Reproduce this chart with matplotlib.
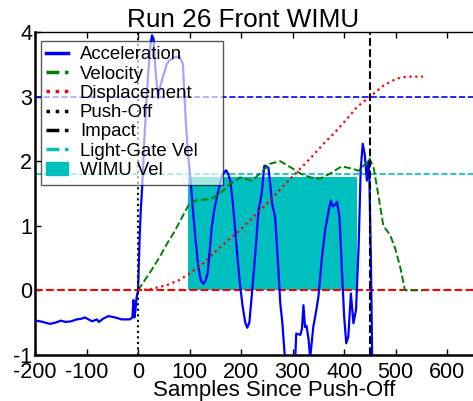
import matplotlib
matplotlib.use('Agg')
import matplotlib.pyplot as plt
import matplotlib.patches as mpatches
from matplotlib.lines import Line2D

plt.rcParams['font.family'] = ['Liberation Sans', 'DejaVu Sans']
plt.rcParams['axes.unicode_minus'] = False

# acceleration trace (samples since push-off, g)
acc_x = [-200, -190, -180, -171, -160, -150, -140, -130, -119, -110, -103, -89,
         -80, -76, -68, -58, -50, -40, -32, -16, -11, -9, -7, -5, -3, 0,
         3, 5, 8, 12, 16, 20, 24, 27, 30, 34, 39, 42, 49, 56, 62, 69, 75, 81,
         87, 92, 97, 102, 107, 112, 117, 122, 127, 131, 135, 139, 143, 148,
         153, 158, 162, 166, 171, 175, 179, 184, 188, 193, 198, 203, 208, 212,
         216, 221, 227, 234, 240, 245, 249, 253, 257, 260, 266, 271, 276, 280,
         282, 285, 305, 307, 311, 315, 318, 321, 324, 327, 331, 334, 340, 345,
         350, 357, 363, 370, 374, 378, 382, 386, 391, 395, 400, 404, 408, 413,
         418, 423, 428, 432, 436, 440, 444, 447, 449, 452, 455]
acc_y = [-0.47, -0.48, -0.50, -0.52, -0.50, -0.47, -0.49, -0.48, -0.45, -0.44,
         -0.42, -0.48, -0.45, -0.49, -0.44, -0.40, -0.41, -0.43, -0.45, -0.45,
         -0.42, -0.15, -0.42, -0.30, -0.12, 0.0,
         0.8, 1.2, 1.6, 2.3, 2.9, 3.4, 3.8, 3.95, 3.9, 3.4, 2.97, 3.13, 3.33,
         3.51, 3.57, 3.6, 3.62, 3.61,
         3.51, 2.7, 2.1, 1.7, 1.2, 0.75, 0.36, 0.15, 0.1, 0.15, 0.26, 0.6,
         0.98, 1.25, 1.44, 1.62, 1.75, 1.82, 1.86, 1.8, 1.7, 1.35, 0.98, 0.5,
         0.08, -0.25, -0.5, -0.58, -0.5, -0.05, 0.52, 1.25, 1.5, 1.93, 1.92,
         1.9, 1.6, 1.35, 1.13, 0.5, -0.2, -0.5, -0.72, -1.05, -1.05, -0.67,
         -0.68, -0.69, -0.6, -0.23, -0.57, -0.55, -0.77, -1.05, -0.57, -0.35,
         -0.1, 0.52, 0.93, 1.24, 1.39, 1.3, 1.32, 1.37, 1.13, 0.41, -0.41,
         -0.82, -0.72, -0.05, -0.51, -0.30, 0.67, 1.86, 2.27, 2.1, 1.70, 2.0,
         1.70, 0.41, -1.5]

# velocity (m/s)
vel_x = [0, 15, 30, 45, 56, 70, 82, 98, 114, 140, 159, 179, 198, 221, 237,
         256, 276, 295, 315, 334, 353, 373, 395, 418, 428, 440, 449, 457, 467,
         476, 489, 499, 509, 518, 530, 553]
vel_y = [0, 0.18, 0.36, 0.56, 0.72, 0.90, 1.08, 1.32, 1.40, 1.41, 1.50, 1.65,
         1.75, 1.70, 1.81, 1.96, 2.0, 1.91, 1.81, 1.75, 1.73, 1.81, 1.92, 1.88,
         1.85, 1.95, 2.04, 1.91, 1.44, 1.0, 0.86, 0.65, 0.35, 0.0, 0.0, 0.0]

# displacement (m)
disp_x = [0, 25, 56, 80, 100, 127, 150, 175, 198, 225, 256, 280, 308, 335,
          360, 386, 410, 425, 450, 476, 502, 522, 553]
disp_y = [0, 0.02, 0.08, 0.16, 0.26, 0.42, 0.60, 0.78, 0.93, 1.15, 1.39, 1.60,
          1.83, 2.05, 2.27, 2.48, 2.70, 2.84, 3.0, 3.17, 3.28, 3.31, 3.31]

push_off = 0
impact = 450
gate_vel = 1.8
target_disp = 3.0
wimu_start, wimu_end, wimu_vel = 96, 425, 1.75

blue = '#0000ff'
green = '#008000'
red = '#ff0000'
cyan = '#00bfbf'

fig = plt.figure(figsize=(4.73, 4.01), dpi=100)
ax = fig.add_axes([0.074, 0.115, 0.926, 0.805])

ax.fill_between([wimu_start, wimu_end], 0, wimu_vel, color=cyan, lw=0, zorder=1)
ax.axhline(target_disp, color=blue, ls='--', lw=1.2, zorder=2)
ax.axhline(gate_vel, color=cyan, ls='--', lw=1.2, zorder=2)
ax.axhline(0, color=red, ls='--', lw=1.5, zorder=2)
ax.plot(acc_x, acc_y, color=blue, lw=1.6, zorder=3)
ax.plot(vel_x, vel_y, color=green, ls='--', lw=1.4, zorder=4)
ax.plot(disp_x, disp_y, color=red, ls=':', lw=1.6, zorder=4)
ax.axvline(push_off, color='k', ls=':', lw=1.5, zorder=5)
ax.axvline(impact, color='k', ls='--', lw=1.5, zorder=5)

ax.set_xlim(-200, 650)
ax.set_ylim(-1, 4)
ax.set_xticks(range(-200, 601, 100))
ax.set_yticks(range(-1, 5))
ax.tick_params(direction='in', top=True, right=False, labelsize=15.5,
               length=4, width=1)
ax.tick_params(axis='x', pad=5)
ax.tick_params(axis='y', pad=2)
ax.spines['right'].set_visible(False)
ax.spines['top'].set_linewidth(1.0)
ax.spines['left'].set_linewidth(1.8)
ax.spines['bottom'].set_linewidth(1.8)

ax.set_title('Run 26 Front WIMU', fontsize=18.8, x=0.475, pad=4)
ax.set_xlabel('Samples Since Push-Off', fontsize=16, labelpad=-1.8, x=0.545)

handles = [
    Line2D([], [], color=blue, lw=2.5),
    Line2D([], [], color=green, ls='--', lw=2.5),
    Line2D([], [], color=red, ls=':', lw=2.5),
    Line2D([], [], color='k', ls=':', lw=2.5),
    Line2D([], [], color='k', ls='--', lw=2.5),
    Line2D([], [], color=cyan, ls='--', lw=2.5),
    mpatches.Patch(color=cyan),
]
labels = ['Acceleration', 'Velocity', 'Displacement', 'Push-Off', 'Impact',
          'Light-Gate Vel', 'WIMU Vel']
leg = ax.legend(handles, labels, loc='upper left',
                bbox_to_anchor=(0.013, 0.5, 0.416, 0.473), mode='expand',
                borderaxespad=0, fontsize=13.4, handlelength=1.15,
                handletextpad=0.65, labelspacing=0.12, borderpad=0.3,
                fancybox=False, framealpha=0.65, edgecolor='k')
leg.get_frame().set_linewidth(1.0)
leg.set_zorder(10)

fig.savefig('out.png', dpi=100)
